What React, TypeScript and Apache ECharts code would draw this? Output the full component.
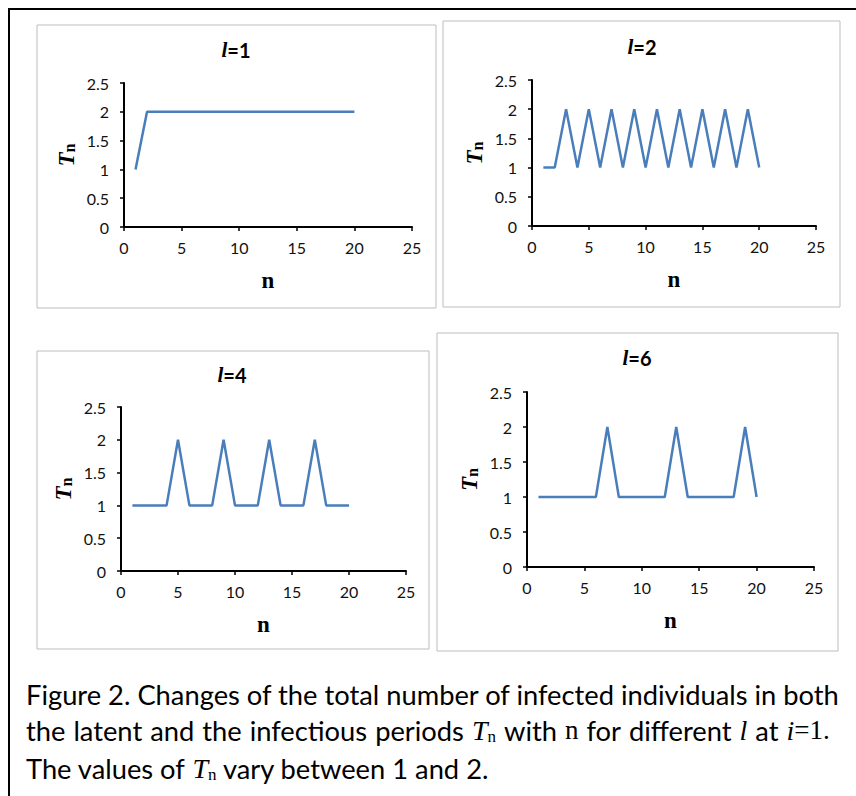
import { useEffect, useRef } from 'react';
import * as echarts from 'echarts';

// n = 1..20 for every panel
const nValues = [1, 2, 3, 4, 5, 6, 7, 8, 9, 10, 11, 12, 13, 14, 15, 16, 17, 18, 19, 20];

const tnL1 = [1, 2, 2, 2, 2, 2, 2, 2, 2, 2, 2, 2, 2, 2, 2, 2, 2, 2, 2, 2];
const tnL2 = [1, 1, 2, 1, 2, 1, 2, 1, 2, 1, 2, 1, 2, 1, 2, 1, 2, 1, 2, 1];
const tnL4 = [1, 1, 1, 1, 2, 1, 1, 1, 2, 1, 1, 1, 2, 1, 1, 1, 2, 1, 1, 1];
const tnL6 = [1, 1, 1, 1, 1, 1, 2, 1, 1, 1, 1, 1, 2, 1, 1, 1, 1, 1, 2, 1];

const panelLabels = ['1', '2', '4', '6'];

const SANS = 'Lato, "Open Sans", sans-serif';
const SERIF = '"Liberation Serif", "DejaVu Serif", serif';
const LINE = '#4A7EBB';

// plot area and frame of each panel
const panels = [
  { grid: { left: 124, top: 83, width: 288, height: 144 }, box: [37, 25, 399, 283], title: [236, 50], data: tnL1 },
  { grid: { left: 532, top: 80, width: 284, height: 146 }, box: [443, 21, 397, 286], title: [642, 47], data: tnL2 },
  { grid: { left: 121, top: 407, width: 285, height: 164 }, box: [37, 351, 392, 298], title: [232, 375], data: tnL4 },
  { grid: { left: 527, top: 392, width: 287, height: 175 }, box: [437, 333, 401, 318], title: [637, 358], data: tnL6 },
];

const App = () => {
  const chartRef = useRef<HTMLDivElement>(null);

  useEffect(() => {
    if (!chartRef.current) return;
    const chart = echarts.init(chartRef.current, null, { renderer: 'svg' });

    const axisLine = { show: true, lineStyle: { color: '#000', width: 2 } };
    const axisTick = { show: true, length: 4, lineStyle: { color: '#000', width: 1.5 } };

    const xAxis = panels.map((_, i) => ({
      type: 'value',
      gridIndex: i,
      min: 0,
      max: 25,
      interval: 5,
      axisLine,
      axisTick,
      splitLine: { show: false },
      axisLabel: { color: '#111', fontFamily: SANS, fontSize: 16, margin: 12 },
      name: 'n',
      nameLocation: 'middle',
      nameGap: 42,
      nameTextStyle: { fontFamily: SERIF, fontWeight: 'bold', fontSize: 23, color: '#000' },
    }));

    const yAxis = panels.map((_, i) => ({
      type: 'value',
      gridIndex: i,
      min: 0,
      max: 2.5,
      interval: 0.5,
      axisLine,
      axisTick,
      splitLine: { show: false },
      axisLabel: { color: '#111', fontFamily: SANS, fontSize: 16, margin: 15 },
      name: '{t|T}{s|n}',
      nameLocation: 'middle',
      nameRotate: 90,
      nameGap: 46,
      nameTextStyle: {
        color: '#000',
        rich: {
          t: { fontFamily: SERIF, fontStyle: 'italic', fontWeight: 'bold', fontSize: 23, color: '#000' },
          s: { fontFamily: SERIF, fontWeight: 'bold', fontSize: 16, color: '#000', padding: [6, 0, 0, 0] },
        },
      },
    }));

    const series = panels.map((p, i) => ({
      type: 'line',
      xAxisIndex: i,
      yAxisIndex: i,
      data: nValues.map((n, k) => [n, p.data[k]]),
      showSymbol: false,
      symbol: 'none',
      lineStyle: { color: LINE, width: 2.5 },
      itemStyle: { color: LINE },
    }));

    const captionRich = {
      r: { fontFamily: SANS, fontSize: 27.3, color: '#000' },
      w: { fontFamily: SANS, fontSize: 27.3, color: '#000', padding: [0, 0.5, 0, 0.5] },
      it: { fontFamily: SERIF, fontStyle: 'italic', fontSize: 28, color: '#000' },
      sv: { fontFamily: SERIF, fontSize: 27, color: '#000' },
      sub: { fontFamily: SERIF, fontSize: 17, color: '#000', padding: [12, 0, 0, 0] },
    };

    const graphic: any[] = [
      {
        type: 'rect',
        shape: { x: 9, y: 9, width: 900, height: 900 },
        style: { fill: 'none', stroke: '#000', lineWidth: 2 },
        silent: true,
      },
      ...panels.map((p) => ({
        type: 'rect',
        shape: { x: p.box[0], y: p.box[1], width: p.box[2], height: p.box[3] },
        style: { fill: 'none', stroke: '#BDBDBD', lineWidth: 1 },
        silent: true,
      })),
      ...panels.map((p, i) => ({
        type: 'text',
        x: p.title[0],
        y: p.title[1],
        style: {
          text: `{i|l}{b|=${panelLabels[i]}}`,
          align: 'center',
          verticalAlign: 'middle',
          rich: {
            i: { fontFamily: SERIF, fontStyle: 'italic', fontWeight: 'bold', fontSize: 21, color: '#000' },
            b: { fontFamily: SANS, fontWeight: 'bold', fontSize: 20, color: '#000' },
          },
        },
      })),
      {
        type: 'text',
        x: 26,
        y: 694,
        style: {
          text: '{r|Figure 2. Changes of the total number of infected individuals in both}',
          verticalAlign: 'middle',
          rich: captionRich,
        },
      },
      {
        // second line is justified in the original, so its words sit a little wider apart
        type: 'text',
        x: 26,
        y: 730,
        style: {
          text: '{r|the}{w| }{r|latent}{w| }{r|and}{w| }{r|the}{w| }{r|infectious}{w| }{r|periods}{w| }{it|T}{sub|n}{w| }{r|with}{w| }{sv|n}{w| }{r|for}{w| }{r|different}{w| }{it|l}{w| }{r|at}{w| }{it|i}{sv|=1.}',
          verticalAlign: 'middle',
          rich: captionRich,
        },
      },
      {
        type: 'text',
        x: 26,
        y: 768,
        style: {
          text: '{r|The values of }{it|T}{sub|n}{r| vary between 1 and 2.}',
          verticalAlign: 'middle',
          rich: captionRich,
        },
      },
    ];

    chart.setOption({
      animation: false,
      backgroundColor: '#fff',
      grid: panels.map((p) => ({ ...p.grid, containLabel: false })),
      xAxis,
      yAxis,
      series,
      graphic,
    });

    return () => {
      chart.dispose();
    };
  }, []);

  return (
    <div
      ref={chartRef}
      style={{ position: 'fixed', left: 0, top: 0, width: '856px', height: '796px' }}
    />
  );
};

export default App;
